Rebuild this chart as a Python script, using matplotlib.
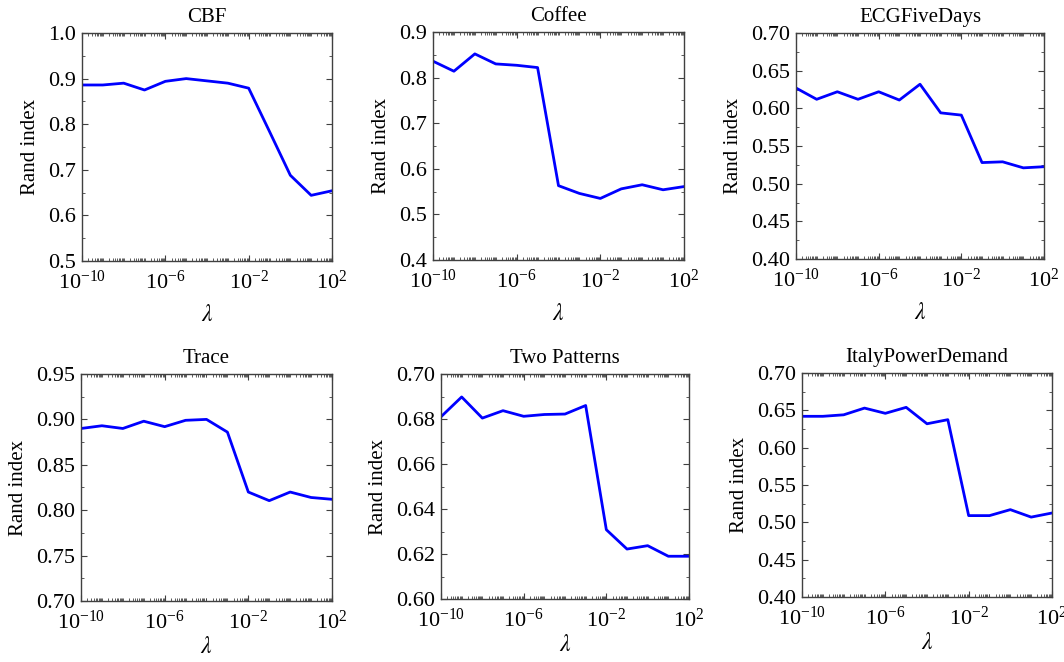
import matplotlib
matplotlib.use('Agg')
import matplotlib.pyplot as plt
import numpy as np
from matplotlib.ticker import LogLocator, AutoMinorLocator, FixedLocator, NullFormatter, FormatStrFormatter

plt.rcParams['font.family'] = ['Liberation Serif', 'DejaVu Serif']
plt.rcParams['mathtext.fontset'] = 'stix'

lam = [1e-10, 1e-9, 1e-8, 1e-7, 1e-6, 1e-5, 1e-4, 1e-3, 1e-2, 1e-1, 1e0, 1e1, 1e2]

cbf = [0.886, 0.886, 0.890, 0.875, 0.894, 0.900, 0.895, 0.890, 0.879, 0.784, 0.688, 0.644, 0.654]
coffee = [0.836, 0.814, 0.852, 0.830, 0.827, 0.822, 0.563, 0.546, 0.535, 0.556, 0.565, 0.554, 0.561]
ecg = [0.627, 0.612, 0.622, 0.612, 0.622, 0.611, 0.632, 0.594, 0.591, 0.528, 0.529, 0.521, 0.5225]
trace = [0.890, 0.893, 0.890, 0.898, 0.892, 0.899, 0.900, 0.886, 0.820, 0.8105, 0.820, 0.814, 0.812]
two_patterns = [0.681, 0.6898, 0.6804, 0.6837, 0.6812, 0.682, 0.6822, 0.686, 0.6308, 0.6222, 0.6237, 0.619, 0.619]
italy = [0.642, 0.642, 0.644, 0.653, 0.646, 0.654, 0.632, 0.6375, 0.509, 0.509, 0.517, 0.507, 0.5125]

titles = ['CBF', 'Coffee', 'ECGFiveDays', 'Trace', 'Two Patterns', 'ItalyPowerDemand']
series = [cbf, coffee, ecg, trace, two_patterns, italy]
ylims = [(0.5, 1.0), (0.4, 0.9), (0.40, 0.70), (0.70, 0.95), (0.60, 0.70), (0.40, 0.70)]
ysteps = [0.1, 0.1, 0.05, 0.05, 0.02, 0.05]
yfmts = ['%.1f', '%.1f', '%.2f', '%.2f', '%.2f', '%.2f']

# axes boxes in pixels: left, right, top, bottom
W, H = 1064, 662
boxes = [(82, 332, 33, 261), (433, 684, 32, 260), (796, 1044, 33, 259),
         (81, 332, 374, 601), (441, 689, 374, 599), (802, 1052, 373, 597)]

fig = plt.figure(figsize=(W / 100, H / 100), dpi=100)
frame = '#404040'

for i in range(6):
    l, r, t, b = boxes[i]
    ax = fig.add_axes([l / W, 1 - b / H, (r - l) / W, (b - t) / H])
    ax.plot(lam, series[i], color='#0000ff', lw=2)
    ax.set_xscale('log')
    ax.set_xlim(1e-10, 1e2)
    ax.set_ylim(*ylims[i])
    lo, hi = ylims[i]
    ax.set_yticks(np.arange(lo, hi + 1e-9, ysteps[i]))
    ax.yaxis.set_major_formatter(FormatStrFormatter(yfmts[i]))
    ax.yaxis.set_minor_locator(AutoMinorLocator(2))
    ax.xaxis.set_major_locator(FixedLocator([1e-10, 1e-6, 1e-2, 1e2]))
    ax.xaxis.set_minor_locator(LogLocator(base=10, subs=np.arange(1, 10), numticks=100))
    ax.xaxis.set_minor_formatter(NullFormatter())
    ax.tick_params(which='both', direction='in', top=True, right=True, colors=frame,
                   labelcolor='black', labelsize=16)
    ax.tick_params(axis='y', which='major', length=4, width=0.8, pad=4)
    ax.tick_params(axis='x', which='major', length=4, width=0.8, pad=7)
    ax.tick_params(which='minor', length=2, width=0.6)
    for s in ax.spines.values():
        s.set_color(frame)
        s.set_linewidth(1.0)
    ax.set_title(titles[i], fontsize=15, pad=8)
    ax.set_ylabel('Rand index', fontsize=15, labelpad=6)
    ax.set_xlabel(r'$\lambda$', fontsize=17, labelpad=8 if i < 3 else 2)

fig.savefig('out.png', dpi=100)
